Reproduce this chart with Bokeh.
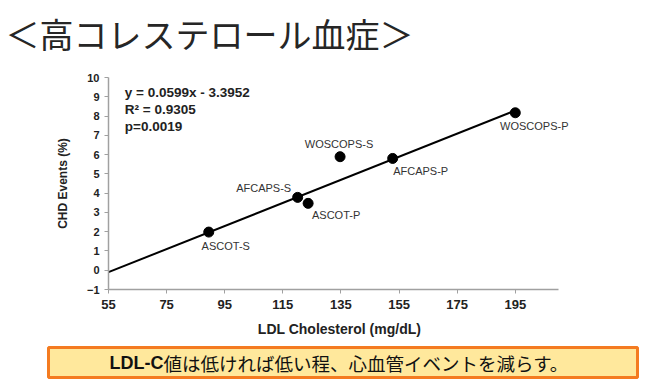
from bokeh.plotting import figure
from bokeh.models import Range1d, FixedTicker, ColumnDataSource, LabelSet, Label
from bokeh.layouts import column
from bokeh.core.properties import value
from bokeh.embed import file_html
from bokeh.resources import INLINE

# ---- data ----
studies = ["ASCOT-S", "AFCAPS-S", "ASCOT-P", "WOSCOPS-S", "AFCAPS-P", "WOSCOPS-P"]
ldl = [89.5, 120.1, 123.7, 134.7, 152.8, 195.0]
chd = [1.98, 3.78, 3.47, 5.89, 5.80, 8.17]
slope = 0.0599
intercept = -3.3952
r_squared = 0.9305
p_value = 0.0019
x_ticks = [55, 75, 95, 115, 135, 155, 175, 195]
y_ticks = [-1, 0, 1, 2, 3, 4, 5, 6, 7, 8, 9, 10]
title_text = "＜高コレステロール血症＞"
x_title = "LDL Cholesterol (mg/dL)"
y_title = "CHD Events (%)"
note_bold = "LDL-C"
note_rest = "値は低ければ低い程、心血管イベントを減らす。"

# ---- layout / style (pixel offsets of point labels) ----
label_dx = [17, -34, 28, -1, 28, 19]
label_dy = [-14, 9, -12, 13, -13, -13]

W = 646
LAT = "Liberation Sans"
JP = "Noto Sans CJK JP"

# title strip
t = figure(width=W, height=58, x_range=Range1d(0, W), y_range=Range1d(0, 58),
           output_backend="svg", toolbar_location=None, min_border=0,
           x_axis_location=None, y_axis_location=None, outline_line_color=None)
t.frame_align = False
t.grid.visible = False
t.text(x=[5], y=[25], text=[title_text], text_font=value(JP), text_font_size="34px",
       text_color="#262626", text_baseline="middle", text_align="left")

# chart
p = figure(width=W, height=287, x_range=Range1d(55, 214), y_range=Range1d(-1, 10),
           output_backend="svg", toolbar_location=None,
           min_border_left=108, min_border_right=76, min_border_top=19, min_border_bottom=56,
           outline_line_color=None)
p.frame_align = False
p.grid.visible = False
p.xaxis.ticker = FixedTicker(ticks=x_ticks)
p.yaxis.ticker = FixedTicker(ticks=y_ticks)
p.xaxis.bounds = (55, 210)
for ax in (p.xaxis[0], p.yaxis[0]):
    ax.axis_line_color = "#a0a0a0"
    ax.axis_line_width = 1.5
    ax.major_tick_line_color = "#a0a0a0"
    ax.major_tick_out = 4
    ax.major_tick_in = 0
    ax.minor_tick_line_color = None
    ax.major_label_text_font = LAT
    ax.major_label_text_font_style = "bold"
    ax.major_label_text_color = "#222222"
    ax.axis_label_text_font = LAT
    ax.axis_label_text_font_style = "bold"
    ax.axis_label_text_color = "#222222"
p.xaxis.major_label_text_font_size = "13px"
p.yaxis.major_label_text_font_size = "11px"
p.xaxis.major_label_standoff = 6
p.yaxis.major_label_standoff = 5
p.xaxis.axis_label = x_title
p.yaxis.axis_label = y_title
p.xaxis.axis_label_text_font_size = "14px"
p.yaxis.axis_label_text_font_size = "12px"
p.xaxis.axis_label_standoff = 9
p.yaxis.axis_label_standoff = 14

trend_x = [x_ticks[0], max(ldl)]
trend_y = [slope * v + intercept for v in trend_x]
p.line(trend_x, trend_y, line_color="black", line_width=2)

src = ColumnDataSource(dict(x=ldl, y=chd, name=studies, dx=label_dx, dy=label_dy))
p.scatter("x", "y", source=src, size=10, fill_color="black", line_color="black")
p.add_layout(LabelSet(x="x", y="y", text="name", source=src, x_offset="dx", y_offset="dy",
                      text_align="center", text_baseline="middle", text_font=value(LAT),
                      text_font_size="11px", text_color="#333333"))

stats = [f"y = {slope}x - {abs(intercept)}", f"R² = {r_squared}", f"p={p_value}"]
for i, s in enumerate(stats):
    p.add_layout(Label(x=60.6, y=9.24 - i * 0.89, text=s, text_align="left",
                       text_baseline="middle", text_font=LAT, text_font_style="bold",
                       text_font_size="13.5px", text_color="#222222"))

# bottom note box
b = figure(width=W, height=38, x_range=Range1d(0, W), y_range=Range1d(0, 38),
           output_backend="svg", toolbar_location=None, min_border=0,
           x_axis_location=None, y_axis_location=None, outline_line_color=None)
b.frame_align = False
b.grid.visible = False
b.quad(left=48, right=637, bottom=6, top=36, fill_color="#FFE89C",
       line_color="#F47B20", line_width=3)
b.text(x=[163], y=[21], text=[note_bold], text_font=value(LAT), text_font_style="bold",
       text_font_size="18px", text_color="#111111", text_align="right", text_baseline="middle")
b.text(x=[163], y=[21], text=[note_rest], text_font=value(JP),
       text_font_size="18.5px", text_color="#111111", text_align="left", text_baseline="middle")

layout = column(t, p, b)
open("out.html", "w").write(file_html(layout, INLINE))
